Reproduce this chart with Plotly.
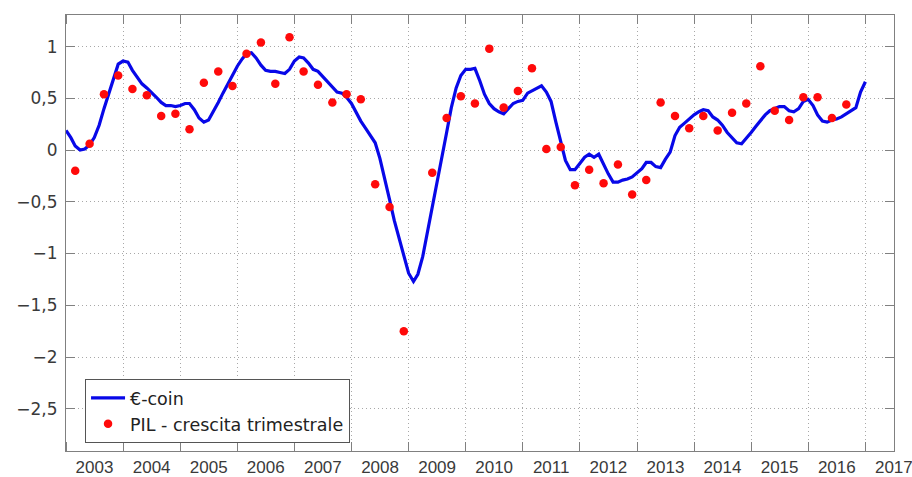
import pandas as pd
import plotly.graph_objects as go

# €-coin, monthly, Jan 2003 .. Jan 2017
ecoin_start = "2003-01-01"
ecoin = [
    0.19, 0.12, 0.04, 0.00, 0.01, 0.05, 0.12, 0.24, 0.40, 0.54, 0.70, 0.83,   # 2003
    0.86, 0.85, 0.77, 0.70, 0.64, 0.60, 0.56, 0.51, 0.46, 0.43, 0.43, 0.42,   # 2004
    0.43, 0.45, 0.45, 0.39, 0.31, 0.27, 0.29, 0.37, 0.46, 0.55, 0.64, 0.72,   # 2005
    0.81, 0.88, 0.93, 0.94, 0.89, 0.82, 0.77, 0.76, 0.76, 0.75, 0.74, 0.78,   # 2006
    0.86, 0.90, 0.89, 0.84, 0.78, 0.76, 0.71, 0.66, 0.61, 0.56, 0.55, 0.51,   # 2007
    0.45, 0.36, 0.28, 0.21, 0.14, 0.07, -0.08, -0.27, -0.48, -0.68, -0.86, -1.04,  # 2008
    -1.19, -1.27, -1.20, -1.03, -0.80, -0.57, -0.33, -0.08, 0.17, 0.41, 0.60, 0.72,  # 2009
    0.78, 0.78, 0.79, 0.67, 0.54, 0.45, 0.40, 0.37, 0.35, 0.40, 0.45, 0.47,   # 2010
    0.48, 0.55, 0.57, 0.59, 0.62, 0.56, 0.47, 0.27, 0.07, -0.10, -0.19, -0.19,  # 2011
    -0.13, -0.07, -0.04, -0.07, -0.04, -0.14, -0.23, -0.31, -0.31, -0.29, -0.28, -0.26,  # 2012
    -0.22, -0.18, -0.12, -0.12, -0.16, -0.17, -0.09, -0.02, 0.14, 0.22, 0.26, 0.30,  # 2013
    0.34, 0.37, 0.39, 0.38, 0.32, 0.29, 0.24, 0.17, 0.12, 0.07, 0.06, 0.11,   # 2014
    0.17, 0.23, 0.28, 0.34, 0.38, 0.40, 0.42, 0.42, 0.38, 0.37, 0.40, 0.47,   # 2015
    0.49, 0.43, 0.34, 0.28, 0.27, 0.29, 0.30, 0.32, 0.35, 0.38, 0.41, 0.56,   # 2016
    0.66,                                                                     # 2017
]

# PIL - crescita trimestrale, quarterly, 2003Q1 .. 2016Q3 (2009Q1 off-scale)
pil_start = "2003-03-01"
pil = [
    -0.20, 0.06, 0.54, 0.72,    # 2003
    0.59, 0.53, 0.33, 0.35,     # 2004
    0.20, 0.65, 0.76, 0.62,     # 2005
    0.93, 1.04, 0.64, 1.09,     # 2006
    0.76, 0.63, 0.46, 0.54,     # 2007
    0.49, -0.33, -0.55, -1.75,  # 2008
    None, -0.22, 0.31, 0.52,    # 2009
    0.45, 0.98, 0.41, 0.57,     # 2010
    0.79, 0.01, 0.03, -0.34,    # 2011
    -0.19, -0.32, -0.14, -0.43, # 2012
    -0.29, 0.46, 0.33, 0.21,    # 2013
    0.33, 0.19, 0.36, 0.45,     # 2014
    0.81, 0.38, 0.29, 0.51,     # 2015
    0.51, 0.31, 0.44,           # 2016
]

year_labels = list(range(2003, 2018))
y_ticks = [-2.5, -2, -1.5, -1, -0.5, 0, 0.5, 1]

ecoin_dates = pd.date_range(ecoin_start, periods=len(ecoin), freq="MS")
pil_dates = pd.date_range(pil_start, periods=len(pil), freq="3MS")
# year labels sit in the middle of each year; ticks/grid sit on 1 January
label_pos = [f"{y}-07-02" for y in year_labels]

axis_col = "#808080"
grid_col = "#a8a8a8"
txt_col = "#3a3a3a"
grid_dash = "1px,3px"

fig = go.Figure()
fig.add_trace(go.Scatter(
    x=ecoin_dates, y=ecoin, mode="lines", name="€-coin",
    line=dict(color="#0808e8", width=3.2),
))
fig.add_trace(go.Scatter(
    x=pil_dates, y=pil, mode="markers", name="PIL - crescita trimestrale",
    marker=dict(color="#ff0a0a", size=8.5),
))

fig.update_layout(
    width=912, height=477,
    margin=dict(l=66, r=18, t=15, b=26, autoexpand=False),
    paper_bgcolor="white", plot_bgcolor="white",
    separators=", ",
    font=dict(family="DejaVu Sans, sans-serif", size=17, color=txt_col),
    showlegend=True,
    legend=dict(
        x=0.023, y=0.165, xanchor="left", yanchor="top",
        bgcolor="white", bordercolor="#555555", borderwidth=1,
        font=dict(family="DejaVu Sans, sans-serif", size=17.5, color="#222222"),
        tracegroupgap=0, itemwidth=34,
    ),
)

fig.update_xaxes(
    type="date",
    range=["2003-01-01", "2017-07-03"],
    tickvals=label_pos, ticktext=[str(y) for y in year_labels],
    ticks="", showgrid=False,
    ticklabeloverflow="allow",
    minor=dict(tick0="2003-01-01", dtick="M12", ticks="inside", ticklen=9,
               tickcolor=axis_col, showgrid=True, gridcolor=grid_col,
               griddash=grid_dash, gridwidth=1),
    showline=True, linecolor=axis_col, linewidth=1.2, mirror="ticks",
    zeroline=False, automargin=False,
    tickfont=dict(family="Liberation Sans, Arial, sans-serif", size=17, color=txt_col),
)
fig.update_yaxes(
    range=[-2.908, 1.305],
    tickvals=y_ticks,
    ticks="inside", ticklen=9, tickcolor=axis_col,
    showline=True, linecolor=axis_col, linewidth=1.2, mirror="ticks",
    showgrid=True, gridcolor=grid_col, griddash=grid_dash, gridwidth=1,
    zeroline=False, automargin=False,
    ticklabelstandoff=4,
    tickfont=dict(family="DejaVu Sans, sans-serif", size=17, color=txt_col),
)

fig.write_html(
    "out.html",
    config={"displayModeBar": False},
    post_script="document.body.style.margin='0';document.body.style.overflow='hidden';",
)
